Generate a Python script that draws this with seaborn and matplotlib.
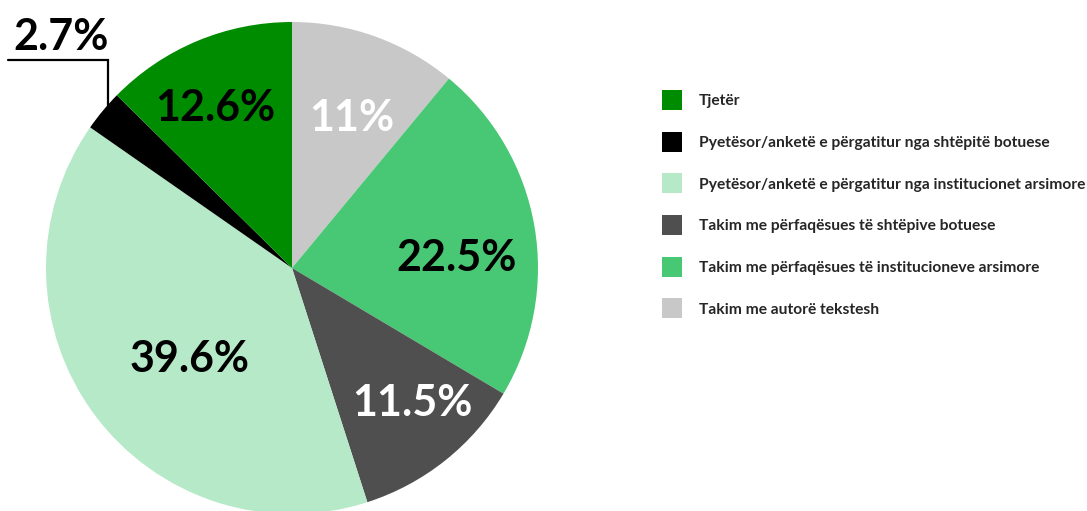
import matplotlib
matplotlib.use("Agg")
import matplotlib.pyplot as plt
import seaborn as sns

# data, clockwise from 12 o'clock
categories = [
    "Takim me autorë tekstesh",
    "Takim me përfaqësues të institucioneve arsimore",
    "Takim me përfaqësues të shtëpive botuese",
    "Pyetësor/anketë e përgatitur nga institucionet arsimore",
    "Pyetësor/anketë e përgatitur nga shtëpitë botuese",
    "Tjetër",
]
shares = [11.0, 22.5, 11.5, 39.6, 2.7, 12.6]
pct_labels = ["11%", "22.5%", "11.5%", "39.6%", "2.7%", "12.6%"]

colors = ["#c8c8c8", "#48c774", "#4f4f4f", "#b5e9c8", "#000000", "#008c00"]
label_colors = ["white", "black", "white", "black", "black", "black"]
# label centres in pie units (radius = 1)
label_pos = [(0.245, 0.61), (0.67, 0.04), (0.49, -0.55),
             (-0.415, -0.37), (-0.94, 0.94), (-0.31, 0.65)]

sns.set_theme(style="white")
plt.rcParams["font.family"] = ["Lato", "DejaVu Sans"]

W, H = 1087, 511
fig = plt.figure(figsize=(W / 100, H / 100), dpi=100)
cx, cy, r = 292, 268, 246
ax = fig.add_axes([(cx - r) / W, (H - cy - r) / H, 2 * r / W, 2 * r / H])

wedges, _ = ax.pie(shares, colors=sns.color_palette(colors), startangle=90,
                   counterclock=False, radius=1,
                   wedgeprops=dict(linewidth=0))
ax.set_xlim(-1, 1); ax.set_ylim(-1, 1)
ax.set_aspect("equal")
ax.axis("off")

for txt, (x, y), c in zip(pct_labels, label_pos, label_colors):
    ax.text(x, y, txt, ha="center", va="center", fontsize=31,
            fontweight="bold", color=c)

# leader line for the small slice
ax.plot([-1.155, -0.75, -0.75], [0.845, 0.845, 0.64], color="black",
        lw=1.6, clip_on=False, solid_joinstyle="miter")

fs = 11.25
fig.legend(wedges[::-1], categories[::-1], loc="upper left",
           bbox_to_anchor=(662 / W, 1 - 90 / H), frameon=False,
           prop=dict(size=fs, weight="bold"),
           handlelength=1.28, handleheight=1.59, handletextpad=1.09,
           labelspacing=1.39, borderpad=0, borderaxespad=0)

fig.savefig("out.png", dpi=100)
